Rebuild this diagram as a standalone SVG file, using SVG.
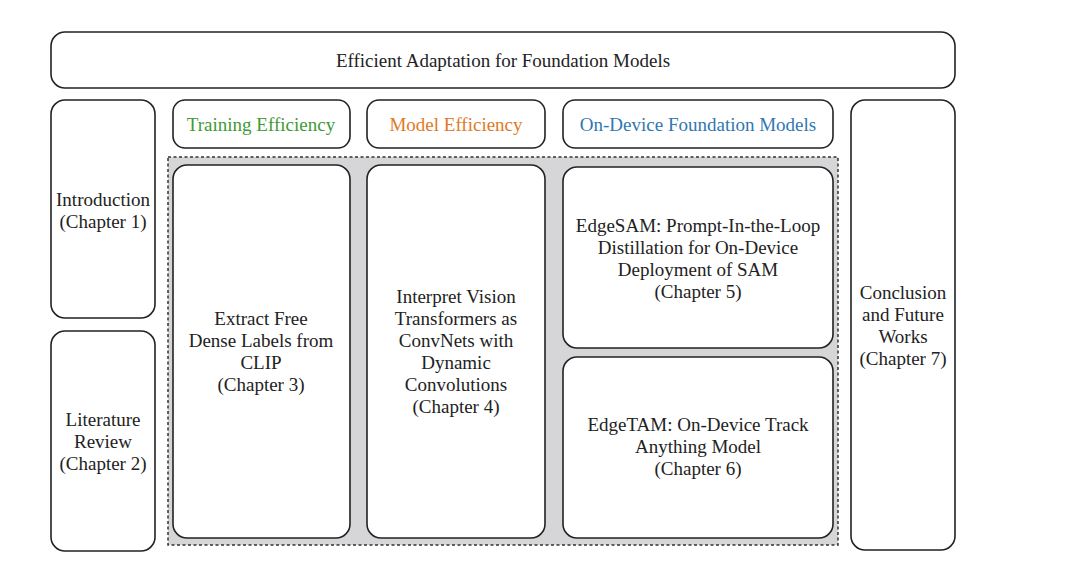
<svg xmlns="http://www.w3.org/2000/svg" width="1080" height="565" viewBox="0 0 1080 565">
<style>
.box{fill:#fff;stroke:#222;stroke-width:1.6}
.t{font-family:'Liberation Serif','Times New Roman',serif;font-size:19px;fill:#222;text-anchor:middle;dominant-baseline:central}
</style>
<rect width="1080" height="565" fill="#fff"/>
<g id="area"><rect x="168" y="157" width="670" height="388" fill="#d6d6d8" stroke="#333" stroke-width="1.5" stroke-dasharray="3,2.5"/></g>
<g id="top"><rect class="box" x="51" y="32" width="904" height="56" rx="14"/><text class="t" x="503" y="60">Efficient Adaptation for Foundation Models</text></g>
<g id="intro"><rect class="box" x="51" y="100" width="104" height="218" rx="14"/><text class="t" x="103" y="199">Introduction</text><text class="t" x="103" y="221">(Chapter 1)</text></g>
<g id="lit"><rect class="box" x="51" y="331" width="104" height="220" rx="14"/><text class="t" x="103" y="419">Literature</text><text class="t" x="103" y="441">Review</text><text class="t" x="103" y="463">(Chapter 2)</text></g>
<g id="h1"><rect class="box" x="173" y="100" width="177" height="48" rx="12"/><text class="t" x="261" y="124" style="fill:#3f9a35">Training Efficiency</text></g>
<g id="h2"><rect class="box" x="367" y="100" width="178" height="48" rx="12"/><text class="t" x="456" y="124" style="fill:#e07a28">Model Efficiency</text></g>
<g id="h3"><rect class="box" x="563" y="100" width="270" height="48" rx="12"/><text class="t" x="698" y="124" style="fill:#2f78b0">On-Device Foundation Models</text></g>
<g id="concl"><rect class="box" x="851" y="100" width="104" height="450" rx="14"/><text class="t" x="903" y="292">Conclusion</text><text class="t" x="903" y="314">and Future</text><text class="t" x="903" y="336">Works</text><text class="t" x="903" y="358">(Chapter 7)</text></g>
<g id="c3"><rect class="box" x="173" y="165" width="177" height="373" rx="14"/><text class="t" x="261" y="318">Extract Free</text><text class="t" x="261" y="340">Dense Labels from</text><text class="t" x="261" y="362">CLIP</text><text class="t" x="261" y="384">(Chapter 3)</text></g>
<g id="c4"><rect class="box" x="367" y="165" width="178" height="373" rx="14"/><text class="t" x="456" y="296">Interpret Vision</text><text class="t" x="456" y="318">Transformers as</text><text class="t" x="456" y="340">ConvNets with</text><text class="t" x="456" y="362">Dynamic</text><text class="t" x="456" y="384">Convolutions</text><text class="t" x="456" y="406">(Chapter 4)</text></g>
<g id="c5"><rect class="box" x="563" y="167" width="270" height="181" rx="14"/><text class="t" x="698" y="225">EdgeSAM: Prompt-In-the-Loop</text><text class="t" x="698" y="247">Distillation for On-Device</text><text class="t" x="698" y="269">Deployment of SAM</text><text class="t" x="698" y="291">(Chapter 5)</text></g>
<g id="c6"><rect class="box" x="563" y="357" width="270" height="181" rx="14"/><text class="t" x="698" y="424">EdgeTAM: On-Device Track</text><text class="t" x="698" y="446">Anything Model</text><text class="t" x="698" y="468">(Chapter 6)</text></g>
<g id="connectors"></g>
</svg>
